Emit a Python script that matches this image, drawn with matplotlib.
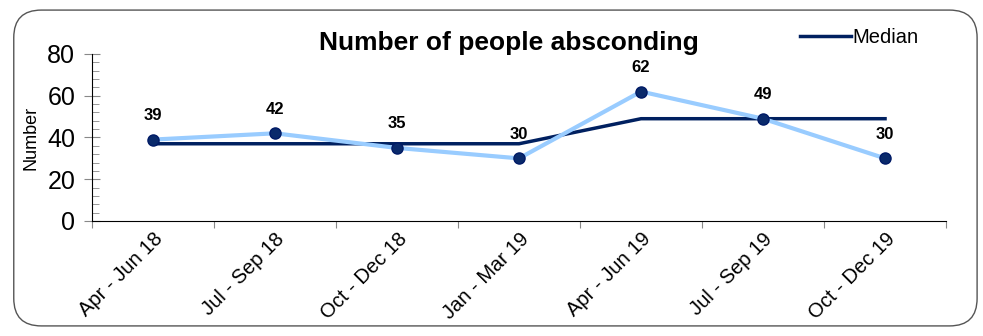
import numpy as np
import matplotlib.pyplot as plt
import matplotlib.transforms as mtransforms
from matplotlib.patches import FancyBboxPatch
from matplotlib.ticker import MultipleLocator

plt.rcParams['font.family'] = ['Liberation Sans', 'DejaVu Sans']

quarters = ['Apr - Jun 18', 'Jul - Sep 18', 'Oct - Dec 18', 'Jan - Mar 19',
            'Apr - Jun 19', 'Jul - Sep 19', 'Oct - Dec 19']
absconding = [39, 42, 35, 30, 62, 49, 30]
median = [37, 37, 37, 37, 49, 49, 49]

fig = plt.figure(figsize=(9.83, 3.36), dpi=100)
border = FancyBboxPatch((0.014, 0.03), 0.98, 0.94, boxstyle='round,pad=0,rounding_size=0.028',
                        transform=fig.transFigure, facecolor='none', edgecolor='#555555',
                        linewidth=1.0, mutation_aspect=983 / 336, zorder=-1)
fig.patches.append(border)

ax = fig.add_axes([0.0936, 0.3423, 0.8688, 0.497])
ax.patch.set_alpha(0)
x = np.arange(len(quarters))
ax.plot(x, absconding, color='#99CCFF', linewidth=3, marker='o', markersize=8,
        markerfacecolor='#0A2A6B', markeredgecolor='#001A66', zorder=3)
ax.plot(x, median, color='#002060', linewidth=2.5, label='Median', zorder=2)

for xi, v in zip(x, absconding):
    ax.annotate(str(v), (xi, v), xytext=(0, 12), textcoords='offset points',
                ha='center', va='bottom', fontsize=12, fontweight='bold')

ax.set_xlim(-0.5, len(quarters) - 0.5)
ax.set_ylim(0, 80)
ax.yaxis.set_major_locator(MultipleLocator(20))
ax.yaxis.set_minor_locator(MultipleLocator(4))
ax.set_xticks(np.arange(-0.5, len(quarters), 1), minor=False)
ax.set_xticklabels([])
ax.set_xticks(x, minor=True)
ax.set_xticklabels(quarters, minor=True, rotation=45, ha='right', rotation_mode='anchor',
                   fontsize=14.5)
shift = mtransforms.ScaledTranslation(-8 / 100, -2 / 100, fig.dpi_scale_trans)
for lbl in ax.get_xticklabels(minor=True):
    lbl.set_transform(lbl.get_transform() + shift)
ax.tick_params(axis='x', which='minor', length=0, pad=6)
ax.tick_params(axis='x', which='major', length=5, color='#888888', direction='out')
ax.tick_params(axis='y', which='major', length=12, direction='inout', color='#888888',
               labelsize=18, pad=6)
ax.tick_params(axis='y', which='minor', length=5, direction='in', color='#888888')

for s in ['top', 'right']:
    ax.spines[s].set_visible(False)
ax.set_ylabel('Number', fontsize=13, labelpad=6)

fig.text(0.518, 0.872, 'Number of people absconding', ha='center', va='center',
         fontsize=19, fontweight='bold')
ax.legend(loc='upper right', bbox_to_anchor=(0.943, 0.94), bbox_transform=fig.transFigure,
          frameon=False, fontsize=14.5, handlelength=2.5, handletextpad=0.1, borderaxespad=0)

fig.savefig('out.png', dpi=100)
